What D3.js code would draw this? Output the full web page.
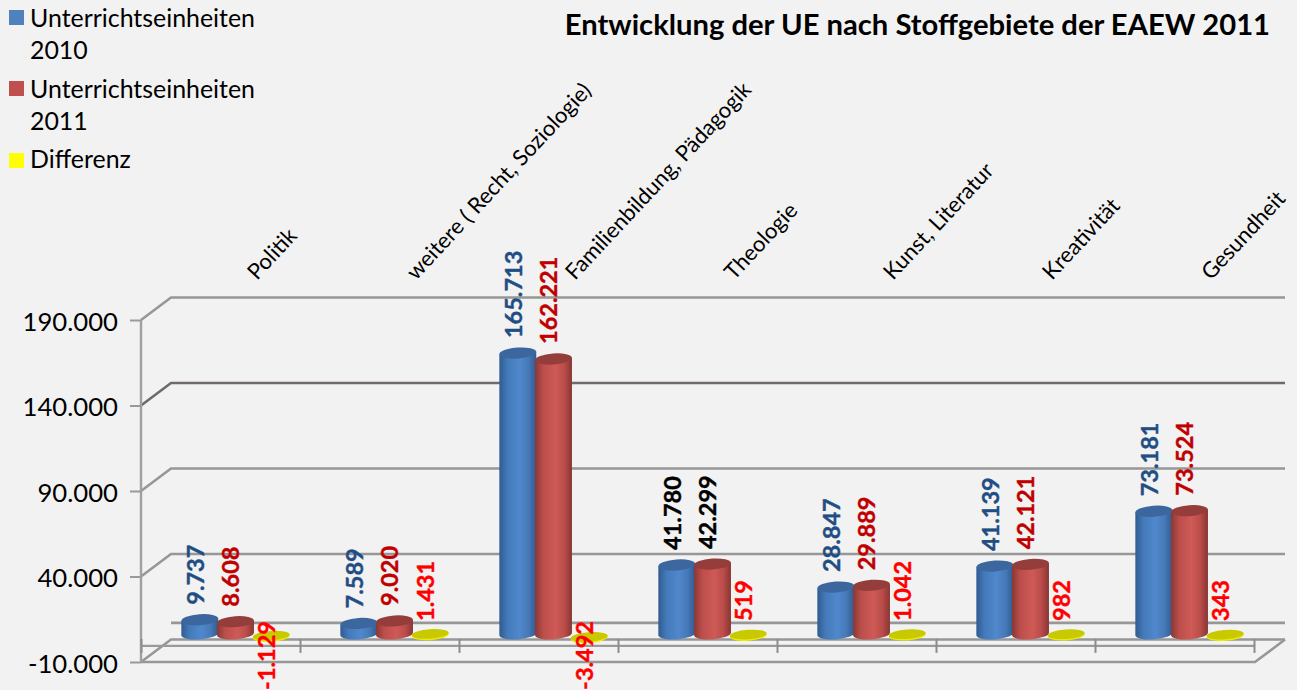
<!DOCTYPE html>
<html><head><meta charset="utf-8">
<script src="https://cdn.jsdelivr.net/npm/d3@7/dist/d3.min.js"></script>
<style>html,body{margin:0;padding:0;background:#f2f2f2;overflow:hidden}svg{display:block}text{font-family:Lato,"Open Sans",sans-serif}</style>
</head><body><svg id="c" width="1297" height="690"></svg>
<script>
const categories=["Politik","weitere ( Recht, Soziologie)","Familienbildung, Pädagogik","Theologie","Kunst, Literatur","Kreativität","Gesundheit"];
const values2010=[9737,7589,165713,41780,28847,41139,73181];
const values2011=[8608,9020,162221,42299,29889,42121,73524];
const differenz=[-1129,1431,-3492,519,1042,982,343];
const yTicks=[-10000,40000,90000,140000,190000];
const legendItems=[["Unterrichtseinheiten","2010"],["Unterrichtseinheiten","2011"],["Differenz"]];
const title="Entwicklung der UE nach Stoffgebiete der EAEW 2011";

const W=1297,H=690;
const svg=d3.select("#c");
const loc=d3.formatLocale({decimal:",",thousands:".",grouping:[3],currency:["","€"],minus:"-"});
const fmt=loc.format(",d");
const x=d3.scaleBand().domain(d3.range(categories.length)).range([141,1254]).paddingInner(0).paddingOuter(0);
const y=d3.scaleLinear().domain([-10000,190000]).range([662,320]);
const wallDX=30,wallDY=-22.5,barDX=15;
const y0=y(0)-8.5;
const h=v=>y(0)-y(v);

const defs=svg.append("defs");
function grad(id,stops){const g=defs.append("linearGradient").attr("id",id);
 stops.forEach(([o,c])=>g.append("stop").attr("offset",o).attr("stop-color",c));}
grad("gb",[[0,"#2f5b8f"],[.22,"#447aba"],[.55,"#5088cc"],[.8,"#4678b6"],[1,"#2f5b8f"]]);
grad("gr",[[0,"#8a3735"],[.22,"#bb4e4b"],[.55,"#cf5a56"],[.8,"#b94c49"],[1,"#873533"]]);
const blur=defs.append("filter").attr("id","soft").attr("filterUnits","userSpaceOnUse").attr("x",0).attr("y",0).attr("width",W).attr("height",H);
blur.append("feGaussianBlur").attr("stdDeviation",.55);

// walls / grid
const grid=svg.append("g").attr("fill","none").attr("stroke","#979797").attr("stroke-width",2.6).attr("filter","url(#soft)");
yTicks.forEach(t=>{
 const yy=y(t),back=yy+wallDY;
 grid.append("path").attr("d",`M141,${yy}L${141+wallDX},${back}H1285`)
  .attr("stroke",t===140000?"#6f6a68":"#979797");
});
grid.append("line").attr("x1",171).attr("x2",1285).attr("y1",y(0)-22).attr("y2",y(0)-22);
grid.append("path").attr("d",`M1285,${y(-10000)+wallDY}L1255,${y(-10000)}H141`);

// axes
const ax=svg.append("g").attr("transform","translate(141,0)")
 .call(d3.axisLeft(y).tickValues(yTicks).tickFormat(fmt).tickSize(11).tickPadding(12));
ax.select(".domain").attr("stroke","#a0a0a0").attr("stroke-width",2.4).attr("d",`M0,${y(190000)}V${y(-10000)}`);
ax.selectAll(".tick line").attr("stroke","#9a9a9a").attr("stroke-width",2);
ax.selectAll(".tick text").attr("font-size",25.7).attr("fill","#000").attr("font-family","Lato").attr("dy","0.4em");

const xi=d3.scaleLinear().domain([0,categories.length]).range([141,1254]);
const xa=svg.append("g").attr("transform",`translate(0,${y(0)+1})`)
 .call(d3.axisBottom(xi).ticks(categories.length).tickFormat("").tickSize(7).tickSizeOuter(0));
xa.select(".domain").attr("stroke","#9a9a9a").attr("stroke-width",2.4).attr("d","M141,0H1254");
xa.selectAll(".tick line").attr("stroke","#8c8c8c").attr("stroke-width",2).attr("y1",-7).attr("y2",7);

// cylinders
const rx=18.5,ry=5.5,rot=-4,baseLift=2.5;
const cdx=rx*Math.cos(rot*Math.PI/180),cdy=rx*Math.sin(rot*Math.PI/180);
function cylinder(g,cx,top,bot,fill,cap){
 g.append("path").attr("fill",fill)
  .attr("d",`M${cx-cdx},${top-cdy}L${cx-cdx},${bot-cdy}A${rx},${ry} ${rot} 0 0 ${cx+cdx},${bot+cdy}L${cx+cdx},${top+cdy}Z`);
 g.append("ellipse").attr("cx",cx).attr("cy",top).attr("rx",rx).attr("ry",ry).attr("fill",cap)
  .attr("transform",`rotate(${rot} ${cx} ${top})`);
}
const bars=svg.append("g");
const step=x.bandwidth();
const bx=(i,k)=>x(i)+step/2+barDX+(k-1)*35.7;
categories.forEach((c,i)=>{
 cylinder(bars,bx(i,0),y0-h(values2010[i]),y0-baseLift,"url(#gb)","#3b679e");
 cylinder(bars,bx(i,1),y0-h(values2011[i]),y0-baseLift,"url(#gr)","#953d3b");
 const cx=bx(i,2),cy=y0-1.5-Math.min(1,Math.max(-1,differenz[i]/3000))*2;
 bars.append("ellipse").attr("cx",cx).attr("cy",cy+1).attr("rx",rx).attr("ry",ry-.3).attr("fill","#eded00").attr("transform",`rotate(${rot} ${cx} ${cy})`);
 bars.append("ellipse").attr("cx",cx).attr("cy",cy).attr("rx",rx).attr("ry",ry-.8).attr("fill","#c9c900").attr("transform",`rotate(${rot} ${cx} ${cy})`);
});

// data labels
const lab=svg.append("g").attr("font-size",23.5).attr("font-weight",700);
function label(cx,yy,txt,fill,anchor){
 lab.append("text").attr("transform",`translate(${cx-4.5+8.3},${yy}) rotate(-90)`).attr("text-anchor",anchor)
  .attr("fill",fill).attr("stroke",fill).attr("stroke-width",.4).text(txt);
}
categories.forEach((c,i)=>{
 const black=i===3;
 label(bx(i,0),y0-h(values2010[i])-15,fmt(values2010[i]),black?"#000":"#1f4e84","start");
 label(bx(i,1),y0-h(values2011[i])-15,fmt(values2011[i]),black?"#000":"#c00000","start");
 label(bx(i,2),621,fmt(differenz[i]),"#ff0000",differenz[i]<0?"end":"start");
});

// category labels
svg.append("g").selectAll("text").data(categories).join("text")
 .attr("transform",(d,i)=>`translate(${x(i)+step/2+36.5},${281}) rotate(-47)`)
 .attr("font-size",22).attr("fill","#000").text(d=>d);

// legend
const legendColors=["#4f81bd","#c0504d","#ffff00"];
const leg=svg.append("g");
const baseline=[27,98,168],sq=[10,81,153];
legendItems.forEach((it,i)=>{
 leg.append("rect").attr("x",9).attr("y",sq[i]).attr("width",15).attr("height",15).attr("fill",legendColors[i]);
 it.forEach((t,j)=>leg.append("text").attr("x",30).attr("y",baseline[i]+j*32).attr("font-size",24.9).attr("fill","#000").text(t));
});

svg.append("text").attr("x",1270).attr("y",35).attr("text-anchor","end").attr("font-size",29.2).attr("font-weight",700).attr("fill","#000").text(title);
</script></body></html>
